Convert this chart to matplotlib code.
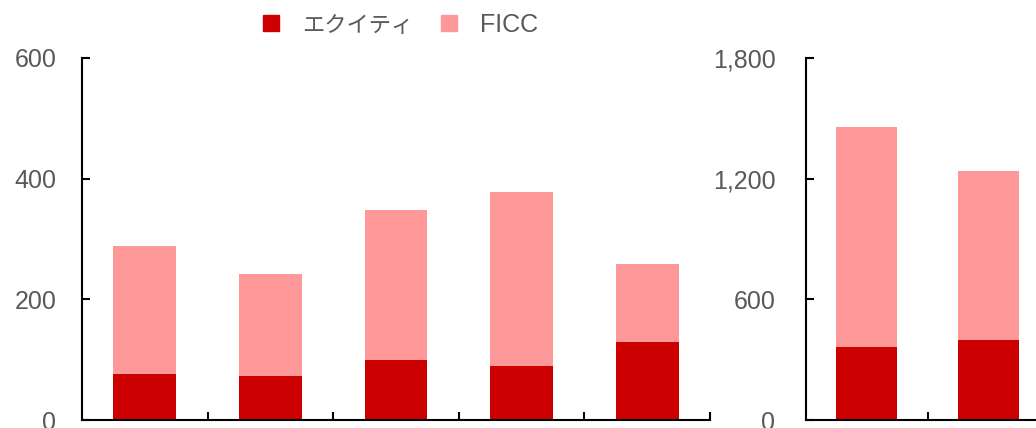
import matplotlib
matplotlib.use("Agg")
import matplotlib.pyplot as plt
from matplotlib.lines import Line2D

plt.rcParams['font.family'] = ['Liberation Sans', 'Noto Sans CJK JP', 'DejaVu Sans']

# data (left panel: 5 periods, right panel: 2 periods)
left_categories = ["P1", "P2", "P3", "P4", "P5"]
left_equity = [76, 73, 100, 90, 129]
left_ficc = [212, 169, 248, 288, 130]

right_categories = ["A", "B"]
right_equity = [362, 400]
right_ficc = [1093, 836]

left_ticks = [0, 200, 400, 600]
right_ticks = [0, 600, 1200, 1800]
legend_labels = ["エクイティ", "FICC"]

c_eq = "#CC0000"
c_ficc = "#FF9999"
grey = "#595959"

fig = plt.figure(figsize=(10.36, 4.28), dpi=100)
ax1 = fig.add_axes([82/1036, 8/428, (710-82)/1036, 362/428])
ax2 = fig.add_axes([806/1036, 8/428, (1049-806)/1036, 362/428])

def draw(ax, cats, eq, ficc, ticks, pad):
    x = list(range(len(cats)))
    ax.bar(x, eq, width=0.5, color=c_eq, zorder=2)
    ax.bar(x, ficc, width=0.5, bottom=eq, color=c_ficc, zorder=2)
    ax.set_xlim(-0.5, len(cats) - 0.5)
    ax.set_ylim(ticks[0], ticks[-1])
    ax.set_yticks(ticks)
    ax.set_yticklabels([f"{t:,}" for t in ticks])
    ax.set_xticks([i + 0.5 for i in x])
    ax.set_xticklabels([])
    for s in ("top", "right"):
        ax.spines[s].set_visible(False)
    for s in ("left", "bottom"):
        ax.spines[s].set_linewidth(1.5)
        ax.spines[s].set_color("black")
    ax.tick_params(axis="y", direction="in", length=6, width=1.5, pad=pad,
                   labelsize=18, labelcolor=grey)
    ax.tick_params(axis="x", direction="in", length=6, width=1.5)

draw(ax1, left_categories, left_equity, left_ficc, left_ticks, 18.5)
draw(ax2, right_categories, right_equity, right_ficc, right_ticks, 22)

handles = [Line2D([], [], marker="s", linestyle="none", markersize=11,
                  markerfacecolor=c, markeredgecolor=c) for c in (c_eq, c_ficc)]
leg = fig.legend(handles, legend_labels, loc="center", bbox_to_anchor=(401/1036, 1 - 25/428),
                 ncol=2, frameon=False, fontsize=18, handletextpad=0.95,
                 columnspacing=1.1, handlelength=0.6, borderpad=0.2)
texts = leg.get_texts()
texts[0].set_fontsize(16)
for t in texts:
    t.set_color(grey)

fig.savefig("out.png", dpi=100)
